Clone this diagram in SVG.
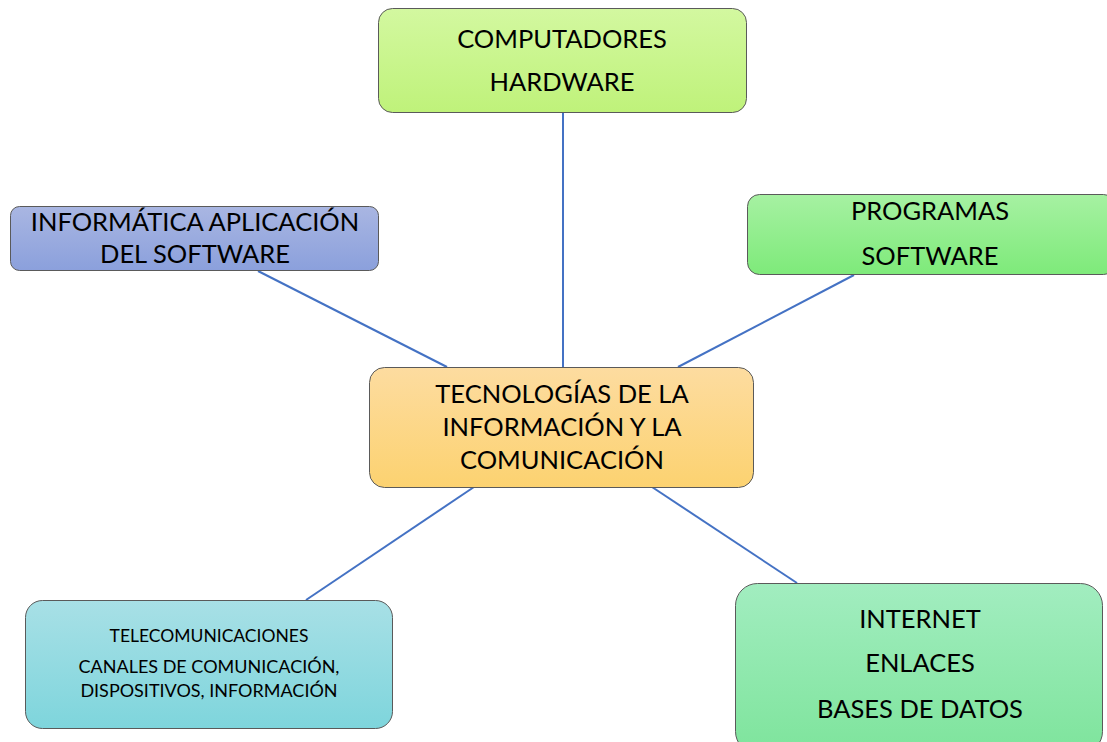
<svg xmlns="http://www.w3.org/2000/svg" width="1107" height="742" viewBox="0 0 1107 742">
<defs>
<linearGradient id="gTop" x1="0" y1="0" x2="0" y2="1"><stop offset="0" stop-color="#d3f8a0"/><stop offset="1" stop-color="#bff27a"/></linearGradient>
<linearGradient id="gLeft" x1="0" y1="0" x2="0" y2="1"><stop offset="0" stop-color="#a9b6e2"/><stop offset="1" stop-color="#8ba0dc"/></linearGradient>
<linearGradient id="gRight" x1="0" y1="0" x2="0" y2="1"><stop offset="0" stop-color="#a6f1a2"/><stop offset="1" stop-color="#7eea7a"/></linearGradient>
<linearGradient id="gCenter" x1="0" y1="0" x2="0" y2="1"><stop offset="0" stop-color="#fddca0"/><stop offset="1" stop-color="#fcd270"/></linearGradient>
<linearGradient id="gBL" x1="0" y1="0" x2="0" y2="1"><stop offset="0" stop-color="#a8e0e6"/><stop offset="1" stop-color="#7ed5dc"/></linearGradient>
<linearGradient id="gBR" x1="0" y1="0" x2="0" y2="1"><stop offset="0" stop-color="#a2edc0"/><stop offset="1" stop-color="#7ee49c"/></linearGradient>
</defs>
<style>
.box{stroke:#5a5a5a;stroke-width:1}
.t{font-family:Lato,"Liberation Sans",sans-serif;fill:#000;text-anchor:middle;font-size:25.5px}
.s{font-size:18px}
.c{stroke:#4472c4;stroke-width:2;fill:none}
</style>
<g id="connectors">
<line class="c" x1="563" y1="113" x2="563" y2="367"/>
<line class="c" x1="258" y1="271" x2="447" y2="367"/>
<line class="c" x1="854" y1="275" x2="678" y2="367"/>
<line class="c" x1="474" y1="487" x2="306" y2="600"/>
<line class="c" x1="652" y1="487" x2="797" y2="583"/>
</g>
<g id="n-computadores">
<rect class="box" x="378.5" y="8.5" width="368" height="104" rx="14" fill="url(#gTop)"/>
<text class="t" x="562" y="48">COMPUTADORES</text>
<text class="t" x="562" y="91">HARDWARE</text>
</g>
<g id="n-informatica">
<rect class="box" x="10.5" y="206.5" width="368" height="64" rx="9" fill="url(#gLeft)"/>
<text class="t" x="195" y="231">INFORMÁTICA APLICACIÓN</text>
<text class="t" x="195" y="263">DEL SOFTWARE</text>
</g>
<g id="n-programas">
<rect class="box" x="747.5" y="194.5" width="368" height="80" rx="12" fill="url(#gRight)"/>
<text class="t" x="930" y="220">PROGRAMAS</text>
<text class="t" x="930" y="265">SOFTWARE</text>
</g>
<g id="n-tic">
<rect class="box" x="369.5" y="367.5" width="384" height="120" rx="15" fill="url(#gCenter)"/>
<text class="t" x="562" y="403">TECNOLOGÍAS DE LA</text>
<text class="t" x="562" y="436">INFORMACIÓN Y LA</text>
<text class="t" x="562" y="469">COMUNICACIÓN</text>
</g>
<g id="n-telecom">
<rect class="box" x="25.5" y="600.5" width="367" height="128" rx="17" fill="url(#gBL)"/>
<text class="t s" x="209" y="642" style="font-size:17.5px">TELECOMUNICACIONES</text>
<text class="t s" x="209" y="673">CANALES DE COMUNICACIÓN,</text>
<text class="t s" x="209" y="697">DISPOSITIVOS, INFORMACIÓN</text>
</g>
<g id="n-internet">
<rect class="box" x="735.5" y="583.5" width="367" height="170" rx="22" fill="url(#gBR)"/>
<text class="t" x="920" y="628">INTERNET</text>
<text class="t" x="920" y="672">ENLACES</text>
<text class="t" x="920" y="718">BASES DE DATOS</text>
</g>
</svg>
